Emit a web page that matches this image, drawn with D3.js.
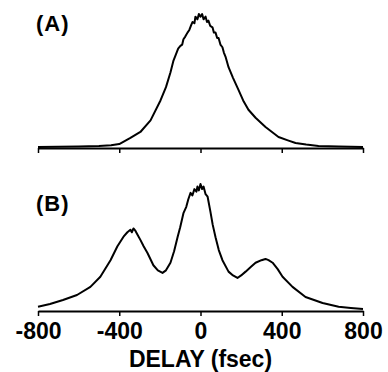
<!DOCTYPE html>
<head>
  <meta charset="utf-8">
  <style>
    body { margin: 0; background: #fff; }
    svg text { font-family: "Liberation Sans", Arial, sans-serif; font-weight: bold; fill: #000; }
    svg .domain { stroke: #000; stroke-width: 2px; }
    svg .tick line { stroke: #000; stroke-width: 1.5px; }
    svg .trace { fill: none; stroke: #000; stroke-width: 2px; stroke-linejoin: round; }
  </style>
</head>
<body>
<script src="https://d3js.org/d3.v7.min.js"></script>
<script>
  // delay (fsec) and normalised signal for each trace
  var delayA = [-800, -700, -600, -500, -440, -400, -345, -296, -246, -197, -170, -148, -133,
                -120, -110, -99, -90, -84, -75, -64, -55, -45, -39, -30, -25, -15, -8, 0,
                8, 15, 25, 32, 39, 48, 59, 66, 74, 82, 89, 98, 108, 115, 123,
                138, 160, 187, 210, 236, 271, 320, 384, 430, 468, 520, 581, 680, 800];
  var signalA = [0, 0.002, 0.004, 0.008, 0.013, 0.022, 0.068, 0.113, 0.20, 0.35, 0.45, 0.56, 0.65,
                 0.70, 0.74, 0.76, 0.77, 0.81, 0.83, 0.86, 0.88, 0.92, 0.94, 0.93, 0.98, 0.96, 1.0, 0.98,
                 1.0, 0.96, 0.98, 0.94, 0.95, 0.91, 0.90, 0.86, 0.86, 0.82, 0.82, 0.77, 0.75, 0.71, 0.68,
                 0.60, 0.52, 0.43, 0.35, 0.28, 0.22, 0.15, 0.075, 0.05, 0.03, 0.018, 0.008, 0.003, 0];

  var delayB = [-800, -741, -677, -608, -542, -493, -443, -409, -379, -360, -345, -338, -330, -320,
                -310, -296, -280, -261, -232, -210, -187, -170, -148, -130, -113, -100, -84, -70,
                -60, -49, -40, -30, -20, -15, -8, 0, 8, 15, 25, 35, 49, 60, 74, 90, 108, 138,
                160, 182, 200, 222, 250, 271, 300, 320, 335, 355, 380, 404, 453, 517, 601, 680, 740, 800];
  var signalB = [0.034, 0.055, 0.087, 0.126, 0.19, 0.27, 0.40, 0.51, 0.585, 0.62, 0.64, 0.62, 0.65, 0.63,
                 0.60, 0.56, 0.51, 0.457, 0.36, 0.32, 0.30, 0.32, 0.38, 0.47, 0.58, 0.66, 0.77, 0.82,
                 0.88, 0.93, 0.91, 0.96, 0.94, 0.98, 0.95, 1.0, 0.96, 0.98, 0.92, 0.90, 0.78, 0.68, 0.58, 0.48, 0.40, 0.31,
                 0.28, 0.26, 0.28, 0.31, 0.35, 0.38, 0.40, 0.41, 0.40, 0.38, 0.33, 0.27, 0.19, 0.11, 0.063, 0.034, 0.024, 0.016];

  var tickVals = [-800, -400, 0, 400, 800];
  var panelLabels = ["(A)", "(B)"];

  var W = 388, H = 372;
  var svg = d3.select("body").append("svg")
      .attr("width", W)
      .attr("height", H);

  var xScale = d3.scaleLinear().domain([-800, 800]).range([38, 363]);

  // each panel: zero line and peak position in pixels
  var panels = [
    { delay: delayA, signal: signalA, base: 147, top: 14, axisY: 148, labelY: 31, labels: false },
    { delay: delayB, signal: signalB, base: 311, top: 184, axisY: 311, labelY: 211, labels: true }
  ];

  panels.forEach(function (p, i) {
    var yScale = d3.scaleLinear().domain([0, 1]).range([p.base, p.top]);

    var xAxis = d3.axisBottom(xScale)
        .tickValues(tickVals)
        .tickSize(5)
        .tickSizeOuter(0)
        .tickPadding(7)
        .tickFormat(function (d) { return p.labels ? (d < 0 ? "-" + Math.abs(d) : d) : ""; });

    svg.append("g")
        .attr("transform", "translate(0," + p.axisY + ")")
        .call(xAxis)
      .selectAll(".tick text")
        .style("font-size", "23px")
        .style("font-family", "'Liberation Sans', Arial, sans-serif")
        .style("font-weight", "bold");

    var line = d3.line()
        .x(function (d, j) { return xScale(p.delay[j]); })
        .y(function (d) { return yScale(d); });

    svg.append("path")
        .classed("trace", true)
        .attr("d", line(p.signal));

    svg.append("text")
        .attr("x", 36)
        .attr("y", p.labelY)
        .style("font-size", "22px")
        .style("letter-spacing", "1px")
        .text(panelLabels[i]);
  });

  svg.append("text")
      .attr("x", xScale(0))
      .attr("y", 367)
      .style("text-anchor", "middle")
      .style("font-size", "23px")
      .text("DELAY (fsec)");
</script>
</body>
</html>
